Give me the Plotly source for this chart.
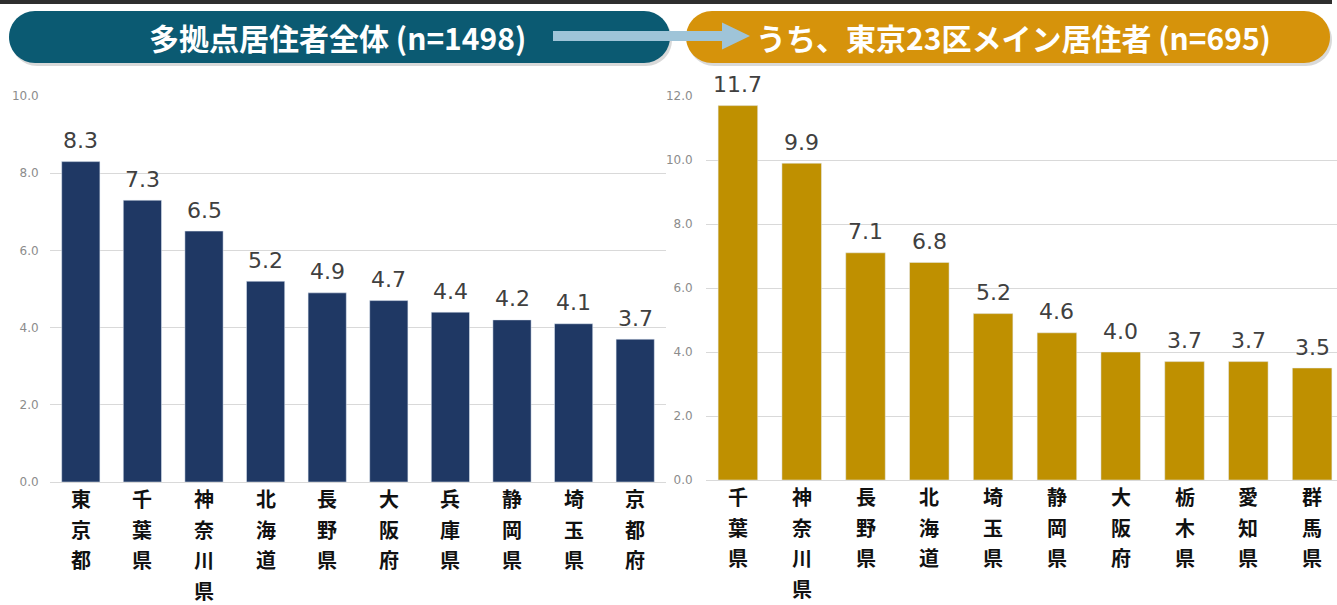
import plotly.graph_objects as go

W, H = 1337, 605

# ---- data ----
left_title = "多拠点居住者全体 (n=1498)"
right_title = "うち、東京23区メイン居住者 (n=695)"

left_categories = ["東京都", "千葉県", "神奈川県", "北海道", "長野県", "大阪府", "兵庫県", "静岡県", "埼玉県", "京都府"]
left_values = [8.3, 7.3, 6.5, 5.2, 4.9, 4.7, 4.4, 4.2, 4.1, 3.7]

right_categories = ["千葉県", "神奈川県", "長野県", "北海道", "埼玉県", "静岡県", "大阪府", "栃木県", "愛知県", "群馬県"]
right_values = [11.7, 9.9, 7.1, 6.8, 5.2, 4.6, 4.0, 3.7, 3.7, 3.5]

left_ticks = [0, 2, 4, 6, 8, 10]
right_ticks = [0, 2, 4, 6, 8, 10, 12]

# ---- styles ----
NAVY = "#1f3864"
GOLD = "#bf9000"
TEAL = "#0b5a72"
ORANGE = "#d6930b"
ARROW = "#9fc4d8"
GRID = "#d9d9d9"
CJK = "Noto Sans CJK JP"
NUM = "DejaVu Sans"


def px(x):
    return x / W


def py(y):
    return 1 - y / H


def pill_path(x0, y0, x1, y1):
    r = (y1 - y0) / 2
    k = 0.5523 * r
    pts = []
    pts.append(f"M{px(x0 + r)},{py(y0)}")
    pts.append(f"L{px(x1 - r)},{py(y0)}")
    pts.append(f"C{px(x1 - r + k)},{py(y0)} {px(x1)},{py(y0 + r - k)} {px(x1)},{py(y0 + r)}")
    pts.append(f"C{px(x1)},{py(y0 + r + k)} {px(x1 - r + k)},{py(y1)} {px(x1 - r)},{py(y1)}")
    pts.append(f"L{px(x0 + r)},{py(y1)}")
    pts.append(f"C{px(x0 + r - k)},{py(y1)} {px(x0)},{py(y1 - r + k)} {px(x0)},{py(y1 - r)}")
    pts.append(f"C{px(x0)},{py(y0 + r - k)} {px(x0 + r - k)},{py(y0)} {px(x0 + r)},{py(y0)}")
    pts.append("Z")
    return " ".join(pts)


def arrow_path(x0, x1, xh, yc, shaft, head):
    p = [
        (x0, yc - shaft / 2), (x1, yc - shaft / 2), (x1, yc - head / 2),
        (xh, yc), (x1, yc + head / 2), (x1, yc + shaft / 2), (x0, yc + shaft / 2),
    ]
    s = "M" + " L".join(f"{px(a)},{py(b)}" for a, b in p) + " Z"
    return s


fig = go.Figure()

fig.add_trace(go.Bar(x=left_categories, y=left_values, marker_color=NAVY,
                     xaxis="x", yaxis="y", hoverinfo="skip"))
fig.add_trace(go.Bar(x=right_categories, y=right_values, marker_color=GOLD,
                     xaxis="x2", yaxis="y2", hoverinfo="skip"))

annotations = []

# value labels
for cats, vals, xr, yr in [(left_categories, left_values, "x", "y"),
                           (right_categories, right_values, "x2", "y2")]:
    for c, v in zip(cats, vals):
        annotations.append(dict(x=c, y=v, xref=xr, yref=yr, text=f"{v:.1f}",
                                showarrow=False, yshift=21, yanchor="middle",
                                font=dict(family=NUM, size=22, color="#404040")))
    # vertical category labels, one character per line
    for c in cats:
        for k, ch in enumerate(c):
            annotations.append(dict(x=c, y=0, xref=xr, yref=yr, text=f"<b>{ch}</b>",
                                    showarrow=False, yshift=-(16.5 + 30.5 * k), yanchor="middle",
                                    borderpad=0, borderwidth=0,
                                    font=dict(family=CJK, size=20, color="#111111")))

# header texts
annotations.append(dict(x=px(337), y=py(37), xref="paper", yref="paper",
                        text=f"<b>{left_title}</b>", showarrow=False,
                        xanchor="center", yanchor="middle",
                        font=dict(family=CJK, size=30, color="white")))
annotations.append(dict(x=px(1013), y=py(37), xref="paper", yref="paper",
                        text=f"<b>{right_title}</b>", showarrow=False,
                        xanchor="center", yanchor="middle",
                        font=dict(family=CJK, size=30, color="white")))

shapes = [
    # top dark strip
    dict(type="rect", xref="paper", yref="paper", x0=0, x1=px(1332), y0=py(4), y1=py(0),
         fillcolor="#2e2e2e", line=dict(width=0), layer="above"),
    # shadows
    dict(type="path", xref="paper", yref="paper", path=pill_path(11, 14, 672, 66),
         fillcolor="rgba(0,0,0,0.15)", line=dict(width=0), layer="above"),
    dict(type="path", xref="paper", yref="paper", path=pill_path(688, 14, 1332, 66),
         fillcolor="rgba(0,0,0,0.15)", line=dict(width=0), layer="above"),
    # pills
    dict(type="path", xref="paper", yref="paper", path=pill_path(9, 11, 670, 63),
         fillcolor=TEAL, line=dict(width=0), layer="above"),
    dict(type="path", xref="paper", yref="paper", path=pill_path(686, 11, 1330, 63),
         fillcolor=ORANGE, line=dict(width=0), layer="above"),
    # arrow
    dict(type="path", xref="paper", yref="paper", path=arrow_path(553, 722, 750, 36, 10, 27),
         fillcolor=ARROW, line=dict(width=0), layer="above"),
]

axis_common = dict(showline=False, showticklabels=False, ticks="", showgrid=False,
                   zeroline=False, fixedrange=True, automargin=False)

yaxis_common = dict(showline=False, showgrid=True, gridcolor=GRID, gridwidth=1,
                    zeroline=True, zerolinecolor=GRID, zerolinewidth=1,
                    tickformat=".1f", ticks="outside", tickcolor="rgba(0,0,0,0)",
                    tickfont=dict(family=NUM, size=12, color="#8c8c8c"),
                    tickmode="array", fixedrange=True, automargin=False)

fig.update_layout(
    width=W, height=H, autosize=False,
    margin=dict(l=0, r=0, t=0, b=0, pad=0, autoexpand=False),
    paper_bgcolor="white", plot_bgcolor="white",
    showlegend=False, bargap=0.38,
    xaxis=dict(domain=[px(50), px(666)], range=[-0.5, 9.5], anchor="y", **axis_common),
    yaxis=dict(domain=[py(482), py(96)], range=[0, 10], anchor="x",
               tickvals=left_ticks, ticklen=8, **yaxis_common),
    xaxis2=dict(domain=[px(706), 1], range=[-0.5, 9.39], anchor="y2", **axis_common),
    yaxis2=dict(domain=[py(480), py(96)], range=[0, 12], anchor="x2",
                tickvals=right_ticks, ticklen=10, **yaxis_common),
    annotations=annotations,
    shapes=shapes,
)

fig.write_html(
    "out.html",
    config={"displayModeBar": False},
    post_script="document.body.style.margin='0';document.body.style.overflow='hidden';",
)
